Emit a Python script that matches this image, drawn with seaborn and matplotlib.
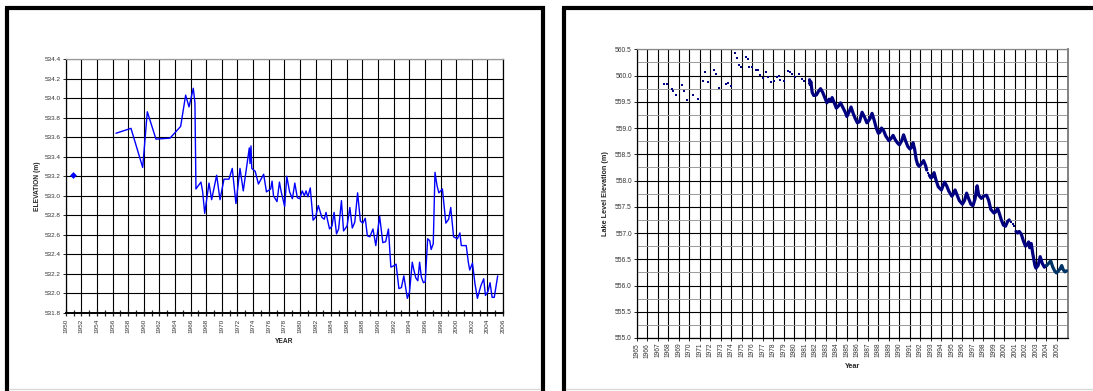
import matplotlib
matplotlib.use("Agg")
import matplotlib.pyplot as plt
from matplotlib.lines import Line2D
from matplotlib.ticker import MultipleLocator, FormatStrFormatter
import numpy as np
import pandas as pd
import seaborn as sns

# ---------------- data: left chart ----------------
left_single_year = [1950.9]
left_single_elev = [533.21]

left_years = [
    1956.44, 1958.36, 1959.86, 1960.45, 1961.56, 1963.36, 1964.72, 1965.36, 1965.79, 1966.34,
    1966.55, 1966.68, 1967.32, 1967.54, 1967.80, 1968.35, 1968.69, 1969.33, 1969.76, 1970.27,
    1970.91, 1971.33, 1971.80, 1972.32, 1972.74, 1973.51, 1973.60, 1973.73, 1973.83, 1974.27,
    1974.68, 1975.35, 1975.71, 1976.25, 1976.43, 1976.61, 1977.06, 1977.37, 1977.60, 1978.04,
    1978.31, 1978.67, 1979.03, 1979.34, 1979.66, 1979.97, 1980.29, 1980.56, 1980.78, 1981.01,
    1981.32, 1981.68, 1981.99, 1982.35, 1982.80, 1983.11, 1983.34, 1983.56, 1983.79, 1984.10,
    1984.37, 1984.68, 1984.95, 1985.31, 1985.58, 1986.03, 1986.39, 1986.70, 1987.02, 1987.38,
    1987.74, 1988.05, 1988.36, 1988.63, 1988.95, 1989.35, 1989.71, 1990.20, 1990.61, 1990.97,
    1991.33, 1991.64, 1991.95, 1992.31, 1992.67, 1992.99, 1993.30, 1993.75, 1994.02, 1994.38,
    1994.56, 1994.83, 1995.09, 1995.32, 1995.54, 1995.81, 1996.04, 1996.35, 1996.62, 1996.80,
    1997.07, 1997.29, 1997.56, 1997.79, 1998.24, 1998.68, 1999.04, 1999.31, 1999.67, 2000.16,
    2000.48, 2000.66, 2001.29, 2001.56, 2001.74, 2002.09, 2002.41, 2002.72, 2003.17, 2003.53,
    2003.75, 2004.07, 2004.34, 2004.61, 2004.88, 2005.32,
]
left_elev = [
    533.64, 533.69, 533.29, 533.86, 533.58, 533.59, 533.71, 534.03, 533.91, 534.10,
    533.95, 533.07, 533.14, 533.04, 532.82, 533.13, 532.96, 533.21, 532.96, 533.17,
    533.17, 533.28, 532.92, 533.28, 533.05, 533.49, 533.33, 533.51, 533.28, 533.25,
    533.12, 533.22, 533.04, 533.07, 533.15, 533.00, 532.94, 533.14, 533.04, 532.89,
    533.20, 533.04, 532.97, 533.13, 532.98, 532.97, 533.05, 533.00, 533.05, 532.99,
    533.08, 532.75, 532.78, 532.90, 532.78, 532.76, 532.83, 532.74, 532.66, 532.69,
    532.83, 532.61, 532.66, 532.95, 532.64, 532.69, 532.88, 532.67, 532.73, 533.03,
    532.74, 532.72, 532.77, 532.59, 532.58, 532.66, 532.49, 532.79, 532.52, 532.53,
    532.66, 532.27, 532.28, 532.30, 532.05, 532.06, 532.18, 531.95, 532.01, 532.32,
    532.25, 532.16, 532.13, 532.32, 532.17, 532.11, 532.12, 532.56, 532.54, 532.45,
    532.51, 533.24, 533.10, 533.03, 533.07, 532.72, 532.76, 532.88, 532.58, 532.56,
    532.62, 532.49, 532.49, 532.32, 532.24, 532.31, 532.10, 531.95, 532.08, 532.15,
    531.98, 532.02, 532.11, 531.96, 531.96, 532.18,
]

# ---------------- data: right chart ----------------
dot_years = [
    1967.60, 1967.85, 1968.33, 1968.49, 1968.71, 1969.35, 1969.50, 1969.79, 1970.36, 1970.84,
    1971.35, 1971.50, 1971.82, 1972.36, 1972.55, 1972.81, 1973.50, 1973.73, 1973.95, 1974.39,
    1974.55, 1974.74, 1974.93, 1975.38, 1975.57, 1975.73, 1976.01, 1976.36, 1976.58, 1976.74,
    1977.06, 1977.32, 1977.54, 1977.76, 1978.08, 1978.33, 1978.55, 1978.68, 1979.06, 1979.41,
    1979.60, 1979.79, 1980.08, 1980.46, 1980.75, 1980.94, 1992.72, 2000.62, 2000.80, 2000.95,
]
dot_elev = [
    559.83, 559.84, 559.74, 559.70, 559.62, 559.82, 559.71, 559.53, 559.62, 559.56,
    559.89, 560.06, 559.88, 560.10, 560.03, 559.76, 559.83, 559.85, 559.81, 560.42,
    560.34, 560.21, 560.16, 560.36, 560.31, 560.16, 560.16, 560.11, 560.11, 560.01,
    559.95, 560.06, 559.98, 559.88, 559.90, 559.97, 559.99, 559.91, 559.89, 560.09,
    560.06, 560.02, 559.97, 560.02, 559.94, 559.90, 558.15, 557.21, 557.18, 557.14,
]

seg1_years = [
    1981.45, 1981.50, 1981.58, 1981.70, 1981.85, 1982.10, 1982.30, 1982.50, 1982.70, 1982.90,
    1983.10, 1983.30, 1983.45, 1983.60, 1983.80, 1984.00, 1984.20, 1984.40, 1984.60, 1984.85,
    1985.00, 1985.20, 1985.40, 1985.60, 1985.80, 1986.00, 1986.20, 1986.45, 1986.70, 1986.90,
    1987.00, 1987.20, 1987.40, 1987.60, 1987.80, 1988.00, 1988.15, 1988.30, 1988.50, 1988.70,
    1989.00, 1989.20, 1989.40, 1989.60, 1989.80, 1990.00, 1990.20, 1990.40, 1990.60, 1990.80,
    1991.00, 1991.15, 1991.30, 1991.45, 1991.60, 1991.75, 1991.90, 1992.10, 1992.30, 1992.50,
    1992.60,
]
seg1_elev = [
    559.92, 559.83, 559.88, 559.68, 559.62, 559.63, 559.70, 559.75, 559.68, 559.58,
    559.48, 559.55, 559.51, 559.58, 559.48, 559.38, 559.42, 559.48, 559.40, 559.30,
    559.22, 559.30, 559.40, 559.28, 559.18, 559.10, 559.12, 559.30, 559.20, 559.10,
    559.12, 559.18, 559.28, 559.15, 559.00, 558.90, 558.92, 559.00, 558.95, 558.85,
    558.76, 558.80, 558.86, 558.78, 558.72, 558.68, 558.75, 558.87, 558.75, 558.65,
    558.60, 558.63, 558.72, 558.60, 558.40, 558.30, 558.27, 558.32, 558.38, 558.28,
    558.20,
]
seg2_years = [
    1992.85, 1993.00, 1993.15, 1993.30, 1993.50, 1993.70, 1994.00, 1994.15, 1994.30, 1994.50,
    1994.70, 1995.00, 1995.15, 1995.30, 1995.50, 1995.70, 1996.00, 1996.20, 1996.40, 1996.60,
    1996.80, 1997.00, 1997.20, 1997.40, 1997.55, 1997.80, 1998.00, 1998.30, 1998.50, 1998.70,
    1999.00, 1999.15, 1999.35, 1999.50, 1999.70, 1999.90, 2000.10, 2000.30, 2000.45,
]
seg2_elev = [
    558.10, 558.05, 558.07, 558.15, 558.00, 557.88, 557.82, 557.90, 557.97, 557.90,
    557.80, 557.70, 557.75, 557.82, 557.72, 557.62, 557.55, 557.62, 557.76, 557.65,
    557.55, 557.52, 557.65, 557.90, 557.72, 557.66, 557.70, 557.72, 557.62, 557.45,
    557.38, 557.40, 557.47, 557.38, 557.25, 557.15, 557.13, 557.22, 557.25,
]
seg3_years = [
    2001.10, 2001.25, 2001.40, 2001.60, 2001.80, 2002.00, 2002.15, 2002.30, 2002.40, 2002.55,
    2002.70, 2002.90, 2003.00, 2003.20, 2003.40, 2003.60, 2003.80, 2004.00,
]
seg3_elev = [
    557.03, 557.00, 557.03, 556.98, 556.85, 556.75, 556.78, 556.83, 556.72, 556.80,
    556.60, 556.38, 556.33, 556.38, 556.55, 556.42, 556.35, 556.38,
]
seg4_years = [
    2004.00, 2004.20, 2004.40, 2004.60, 2004.80, 2004.95, 2005.10, 2005.30, 2005.45, 2005.60,
    2005.75, 2005.92,
]
seg4_elev = [
    556.38, 556.42, 556.47, 556.35, 556.27, 556.24, 556.27, 556.32, 556.38, 556.30,
    556.26, 556.28,
]

left_ticks = list(range(1950, 2007, 2))
right_ticks = list(range(1965, 2006))

# ---------------- figure ----------------
sns.set_theme(style="white")
plt.rcParams["font.family"] = ["Liberation Sans", "DejaVu Sans"]

W, H = 1093, 391
fig = plt.figure(figsize=(W / 100, H / 100), dpi=100)
fig.patch.set_facecolor("white")


def fx(px):
    return px / W


def fy(py):
    return 1 - py / H


# panel borders
bw = 3.0
for (x0, y0, x1, y1) in [
    (7, 8, 7, 400), (5, 8, 545, 8), (542.5, 6, 542.5, 400),
    (564, 8, 564, 400), (562, 8, 1100, 8),
]:
    fig.add_artist(Line2D([fx(x0), fx(x1)], [fy(y0), fy(y1)], color="black",
                          lw=bw, solid_capstyle="butt"))
fig.add_artist(Line2D([fx(9), fx(540)], [fy(388.5), fy(388.5)], color="#d8d8d8", lw=1))
fig.add_artist(Line2D([fx(566), fx(1093)], [fy(388.5), fy(388.5)], color="#d8d8d8", lw=1))

# ---------------- left axes ----------------
ax1 = fig.add_axes([fx(65.7), fy(313), fx(503 - 65.7), (313 - 59) / H])
ax1.set_xlim(1950, 2006)
ax1.set_ylim(531.8, 534.4)
ax1.set_xticks(left_ticks)
ax1.set_xticklabels([str(t) for t in left_ticks], rotation=90, fontsize=4.6, color="#333333")
ax1.xaxis.set_minor_locator(MultipleLocator(1))
ax1.yaxis.set_major_locator(MultipleLocator(0.2))
ax1.yaxis.set_major_formatter(FormatStrFormatter("%.1f"))
ax1.tick_params(axis="y", labelsize=4.6, labelcolor="#333333", length=2.5, width=0.7,
                direction="out", left=True, pad=1)
ax1.tick_params(axis="x", which="both", bottom=True, direction="inout", length=4,
                width=0.9, pad=2)
ax1.grid(True, which="major", color="black", lw=0.8)
for s in ax1.spines.values():
    s.set_color("black")
    s.set_linewidth(0.9)
ax1.spines["top"].set_color("#999999")
ax1.spines["bottom"].set_linewidth(1.4)

df_left = pd.DataFrame({"year": left_years, "elev": left_elev})
sns.lineplot(data=df_left, x="year", y="elev", ax=ax1, color="#0000ff", lw=1.0,
             estimator=None, sort=False)
df_single = pd.DataFrame({"year": left_single_year, "elev": left_single_elev})
sns.scatterplot(data=df_single, x="year", y="elev", ax=ax1, color="#0000ff",
                marker="D", s=12, edgecolor="#0000ff", linewidth=0, zorder=5)
ax1.set_xlabel("YEAR", fontsize=4.8, fontweight="bold", labelpad=4)
ax1.set_ylabel("ELEVATION (m)", fontsize=4.8, fontweight="bold", labelpad=3)

# ---------------- right axes ----------------
ax2 = fig.add_axes([fx(636.7), fy(338), fx(1067.5 - 636.7), (338 - 49.3) / H])
ax2.set_xlim(1965, 2006)
ax2.set_ylim(555.0, 560.5)
ax2.set_xticks(right_ticks)
ax2.set_xticklabels([str(t) for t in right_ticks], rotation=90, fontsize=4.8, color="#333333")
ax2.xaxis.set_minor_locator(MultipleLocator(1))
ax2.yaxis.set_major_locator(MultipleLocator(0.5))
ax2.yaxis.set_minor_locator(MultipleLocator(0.25))
ax2.yaxis.set_major_formatter(FormatStrFormatter("%.1f"))
ax2.tick_params(axis="y", which="major", labelsize=4.8, labelcolor="#333333", length=2.5,
                width=0.7, direction="out", left=True, pad=1)
ax2.tick_params(axis="x", which="major", bottom=True, direction="out", length=2,
                width=0.7, pad=1.5)
ax2.grid(True, which="major", axis="both", color="black", lw=0.8)
ax2.grid(True, which="minor", axis="y", color="#9a9a9a", lw=0.7)
for s in ax2.spines.values():
    s.set_color("black")
    s.set_linewidth(0.9)
ax2.spines["top"].set_color("#888888")
ax2.spines["right"].set_color("#777777")
ax2.spines["right"].set_linewidth(1.3)

df_dots = pd.DataFrame({"year": dot_years, "elev": dot_elev})
sns.scatterplot(data=df_dots, x="year", y="elev", ax=ax2, color="#000080", marker="s",
                s=3, linewidth=0, zorder=4)
for yrs, ev, col in [(seg1_years, seg1_elev, "#000080"), (seg2_years, seg2_elev, "#000080"),
                     (seg3_years, seg3_elev, "#000080"), (seg4_years, seg4_elev, "#003366")]:
    d = pd.DataFrame({"year": yrs, "elev": ev})
    sns.lineplot(data=d, x="year", y="elev", ax=ax2, color=col, lw=2.3,
                 estimator=None, sort=False, zorder=4)
ax2.set_xlabel("Year", fontsize=5.2, fontweight="bold", labelpad=4)
ax2.set_ylabel("Lake Level Elevation (m)", fontsize=5.2, fontweight="bold", labelpad=4)

fig.savefig("out.png", dpi=100, facecolor="white")
